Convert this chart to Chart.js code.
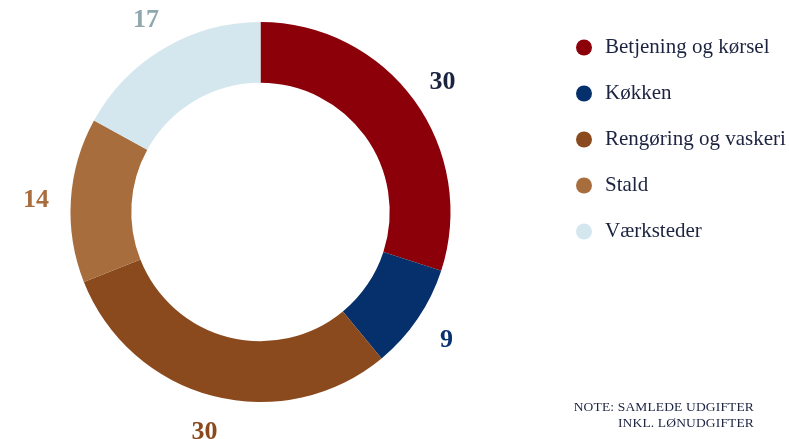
<!DOCTYPE html>
<html><head><meta charset="utf-8">
<script src="https://cdn.jsdelivr.net/npm/chart.js@4.4.1/dist/chart.umd.min.js"></script>
<style>
html,body{margin:0;padding:0;background:#fff;}
#wrap{position:relative;width:789px;height:439px;}
#note{position:absolute;right:35px;top:399px;font:13.5px "Liberation Serif",serif;color:#1c2340;text-align:right;line-height:16px;letter-spacing:0.15px;white-space:nowrap}
</style></head><body>
<div id="wrap"><canvas id="c"></canvas><div id="note">NOTE: SAMLEDE UDGIFTER<br>INKL. LØNUDGIFTER</div></div>
<script>
const categories = ['Betjening og kørsel', 'Køkken', 'Rengøring og vaskeri', 'Stald', 'Værksteder'];
const values = [30, 9, 30, 14, 17];
const sliceColors = ['#8b0009', '#05306b', '#8a4a1d', '#a86d3d', '#d4e7ef'];
const labelColors = ['#1c2340', '#0b3270', '#8a4a1d', '#a86d3d', '#8fa8ad'];

const LEG_FONT_SIZE = 21;
const LEG_FONT_FAMILY = '"Liberation Serif", serif';
const LEG_PAD = 25;
const LEG_BOX = 21;

// measure legend width to place the doughnut's chart area
const mctx = document.createElement('canvas').getContext('2d');
mctx.font = LEG_FONT_SIZE + 'px ' + LEG_FONT_FAMILY;
const maxText = Math.max(...categories.map(t => mctx.measureText(t).width));
const legendW = LEG_PAD + LEG_BOX + LEG_FONT_SIZE / 2 + maxText + 10;
const padRight = 789 - 521 - legendW;

const placeLegend = {
  id: 'placeLegend',
  afterLayout(chart) {
    const lg = chart.legend;
    const w = lg.width;
    lg.left = 584 - LEG_BOX / 2 - LEG_PAD;
    lg.right = lg.left + w;
    lg.top = 47.5 - LEG_PAD - LEG_FONT_SIZE / 2;
  }
};

const outerLabels = {
  id: 'outerLabels',
  afterDatasetsDraw(chart) {
    const ctx = chart.ctx;
    const meta = chart.getDatasetMeta(0);
    const size = 26;
    ctx.save();
    ctx.font = 'bold ' + size + 'px "Liberation Serif", serif';
    ctx.textAlign = 'center';
    ctx.textBaseline = 'alphabetic';
    meta.data.forEach((arc, i) => {
      const p = arc.getProps(['x', 'y', 'startAngle', 'endAngle', 'outerRadius'], true);
      const mid = (p.startAngle + p.endAngle) / 2;
      const r = p.outerRadius + 35;
      ctx.fillStyle = labelColors[i];
      ctx.fillText(String(chart.data.datasets[0].data[i]),
        p.x + Math.cos(mid) * r, p.y + Math.sin(mid) * r + size * 0.34);
    });
    ctx.restore();
  }
};

new Chart(document.getElementById('c'), {
  type: 'doughnut',
  data: {
    labels: categories,
    datasets: [{
      data: values,
      backgroundColor: sliceColors,
      borderWidth: 0,
      hoverOffset: 0
    }]
  },
  options: {
    responsive: true,
    maintainAspectRatio: false,
    animation: false,
    events: [],
    cutout: '68%',
    layout: { padding: { top: 22, bottom: 37, left: 0, right: padRight } },
    plugins: {
      tooltip: { enabled: false },
      legend: {
        position: 'right',
        align: 'start',
        labels: {
          usePointStyle: true,
          pointStyle: 'circle',
          boxWidth: LEG_BOX,
          boxHeight: 11.3,
          padding: LEG_PAD,
          color: '#1c2340',
          font: { family: LEG_FONT_FAMILY, size: LEG_FONT_SIZE }
        }
      }
    }
  },
  plugins: [placeLegend, outerLabels]
});
</script>
</body></html>
